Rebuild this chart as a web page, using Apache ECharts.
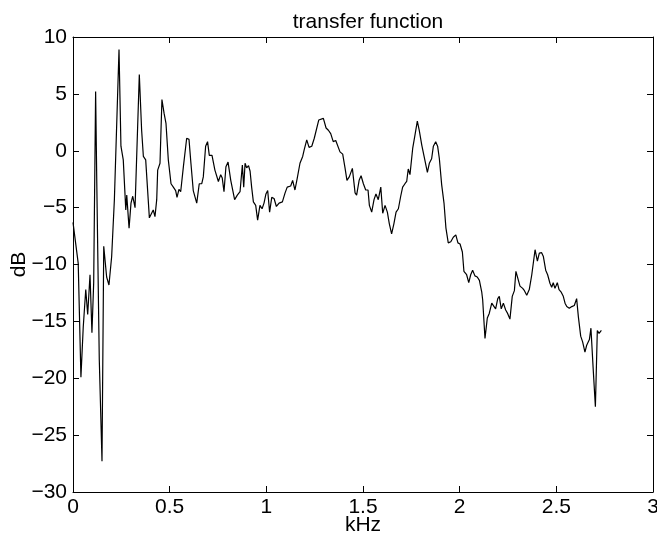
<!DOCTYPE html>
<html>
<head>
<meta charset="utf-8">
<script src="https://cdn.jsdelivr.net/npm/echarts@6/dist/echarts.min.js"></script>
<style>html,body{margin:0;padding:0;background:#fff}#c{width:657px;height:538px}</style>
</head>
<body>
<div id="c"></div>
<script>
const freqKHz = [0.000,0.010,0.027,0.041,0.053,0.066,0.076,0.088,0.098,0.107,0.117,0.123,0.136,0.150,0.159,0.174,0.186,0.200,0.214,0.238,0.248,0.260,0.273,0.278,0.290,0.300,0.309,0.321,0.343,0.355,0.364,0.376,0.395,0.415,0.424,0.433,0.438,0.450,0.460,0.471,0.481,0.493,0.507,0.519,0.531,0.538,0.548,0.557,0.571,0.588,0.600,0.610,0.622,0.640,0.653,0.666,0.674,0.686,0.696,0.705,0.719,0.734,0.752,0.764,0.772,0.781,0.791,0.802,0.816,0.836,0.850,0.864,0.876,0.883,0.890,0.898,0.908,0.916,0.924,0.933,0.945,0.955,0.967,0.978,0.988,0.998,1.007,1.017,1.028,1.040,1.052,1.066,1.083,1.097,1.108,1.126,1.136,1.148,1.160,1.174,1.188,1.196,1.209,1.221,1.235,1.248,1.257,1.271,1.281,1.295,1.309,1.321,1.333,1.346,1.359,1.369,1.381,1.395,1.407,1.417,1.429,1.445,1.459,1.467,1.480,1.490,1.502,1.514,1.526,1.533,1.545,1.557,1.567,1.579,1.592,1.602,1.614,1.626,1.636,1.648,1.660,1.671,1.683,1.695,1.705,1.717,1.726,1.734,1.743,1.757,1.769,1.781,1.791,1.804,1.816,1.833,1.843,1.855,1.864,1.876,1.886,1.895,1.907,1.919,1.929,1.941,1.954,1.967,1.980,1.991,2.002,2.014,2.022,2.031,2.036,2.047,2.057,2.067,2.079,2.091,2.102,2.114,2.119,2.131,2.143,2.153,2.166,2.178,2.186,2.197,2.205,2.215,2.226,2.238,2.248,2.260,2.272,2.283,2.291,2.300,2.312,2.326,2.335,2.347,2.360,2.373,2.390,2.402,2.412,2.424,2.433,2.445,2.455,2.467,2.476,2.484,2.493,2.505,2.514,2.524,2.536,2.545,2.554,2.567,2.580,2.593,2.605,2.614,2.626,2.636,2.648,2.657,2.671,2.679,2.690,2.702,2.712,2.721,2.733];
const gainDB = [-6.3,-6.2,-9.9,-19.9,-15.5,-12.2,-14.4,-10.9,-16.0,-11.6,5.2,-2.8,-18.4,-27.3,-8.4,-11.1,-11.8,-9.3,-4.3,8.9,0.4,-0.8,-5.2,-3.9,-6.8,-4.6,-4.0,-5.0,6.7,1.8,-0.5,-0.8,-5.9,-5.2,-5.8,-4.3,-1.7,-1.1,4.5,3.3,2.4,-0.8,-2.9,-3.2,-3.5,-4.1,-3.4,-3.6,-1.4,1.1,1.0,-1.1,-3.5,-4.6,-2.9,-2.9,-2.3,0.4,0.8,-0.4,-0.4,-1.7,-2.7,-2.1,-2.4,-3.6,-1.4,-1.0,-2.6,-4.3,-3.9,-3.6,-1.25,-3.2,-1.1,-1.5,-1.3,-1.8,-3.2,-4.5,-4.8,-6.1,-4.8,-5.1,-4.6,-3.8,-3.5,-5.4,-4.1,-4.2,-4.9,-4.6,-4.5,-3.7,-3.2,-3.1,-2.6,-3.45,-2.4,-1.1,-0.5,0.1,0.95,0.3,0.4,1.1,1.2,2.7,2.55,2.85,2.0,1.8,1.5,0.8,0.9,0.8,-0.1,-0.3,-1.5,-2.6,-2.3,-1.55,-3.7,-3.9,-2.6,-2.2,-2.9,-3.45,-3.45,-4.8,-5.4,-4.3,-3.8,-4.3,-3.2,-5.5,-4.8,-5.4,-6.4,-7.3,-6.4,-5.4,-5.1,-4.0,-3.2,-2.9,-2.7,-1.6,-2.1,0.2,1.4,2.6,1.8,0.5,-0.5,-1.9,-1.1,-0.7,0.4,0.8,0.4,-0.7,-3.0,-4.6,-6.8,-8.1,-8.0,-7.6,-7.4,-8.1,-8.2,-8.9,-10.6,-10.5,-10.9,-11.6,-10.9,-10.5,-11.0,-11.1,-11.4,-12.4,-13.1,-16.5,-14.7,-14.3,-13.4,-13.7,-13.9,-13.0,-12.8,-13.9,-13.4,-14.0,-14.3,-14.8,-12.8,-12.3,-10.6,-10.5,-11.9,-12.1,-12.3,-12.7,-12.2,-10.9,-8.7,-9.7,-9.0,-8.96,-9.3,-10.5,-10.9,-11.65,-12.0,-11.6,-12.1,-11.6,-12.2,-12.4,-12.8,-13.4,-13.7,-13.85,-13.7,-13.6,-13.0,-14.6,-16.3,-16.8,-17.7,-17.1,-16.6,-15.6,-19.0,-22.5,-15.8,-16.05,-15.8];
const titleText = 'transfer function';
const xName = 'kHz';
const yName = 'dB';

const FONT = '"Liberation Sans", Arial, Helvetica, sans-serif';
const chart = echarts.init(document.getElementById('c'), null, {renderer: 'canvas'});
const lineStyle = {color: '#000', width: 1};
const minusFmt = v => String(v).replace('-', '\u2212');
chart.setOption({
  animation: false,
  backgroundColor: '#fff',
  title: {text: titleText, left: 363, textAlign: 'center', top: 7, textStyle: {fontFamily: FONT, fontSize: 21, fontWeight: 'normal', color: '#000'}},
  grid: {left: 73, right: 4, top: 37, bottom: 46, containLabel: false, outerBoundsMode: 'none'},
  xAxis: [
    {type: 'value', min: 0, max: 3, interval: 0.5, position: 'bottom',
     name: xName, nameLocation: 'middle', nameGap: 23, nameMoveOverlap: false,
     nameTextStyle: {fontFamily: FONT, fontSize: 21, color: '#000', verticalAlign: 'top'},
     axisLine: {show: true, onZero: false, lineStyle},
     axisTick: {show: true, inside: true, length: 6, lineStyle},
     axisLabel: {fontFamily: FONT, fontSize: 21, color: '#000', margin: 5},
     splitLine: {show: false}},
    {type: 'value', min: 0, max: 3, interval: 0.5, position: 'top',
     axisLine: {show: true, onZero: false, lineStyle},
     axisTick: {show: true, inside: true, length: 6, lineStyle},
     axisLabel: {show: false}, splitLine: {show: false}}
  ],
  yAxis: [
    {type: 'value', min: -30, max: 10, interval: 5, position: 'left',
     name: yName, nameLocation: 'middle', nameGap: 54, nameRotate: 90, nameMoveOverlap: false,
     nameTextStyle: {fontFamily: FONT, fontSize: 21, color: '#000', verticalAlign: 'middle'},
     axisLine: {show: true, onZero: false, lineStyle},
     axisTick: {show: true, inside: true, length: 6, lineStyle},
     axisLabel: {fontFamily: FONT, fontSize: 21, color: '#000', margin: 6, formatter: minusFmt},
     splitLine: {show: false}},
    {type: 'value', min: -30, max: 10, interval: 5, position: 'right',
     axisLine: {show: true, onZero: false, lineStyle},
     axisTick: {show: true, inside: true, length: 6, lineStyle},
     axisLabel: {show: false}, splitLine: {show: false}}
  ],
  series: [{
    type: 'line', xAxisIndex: 0, yAxisIndex: 0,
    data: freqKHz.map((f, i) => [f, gainDB[i]]),
    showSymbol: false, symbol: 'none', smooth: false,
    lineStyle: {color: '#000', width: 1.2}
  }]
});
</script>
</body>
</html>
